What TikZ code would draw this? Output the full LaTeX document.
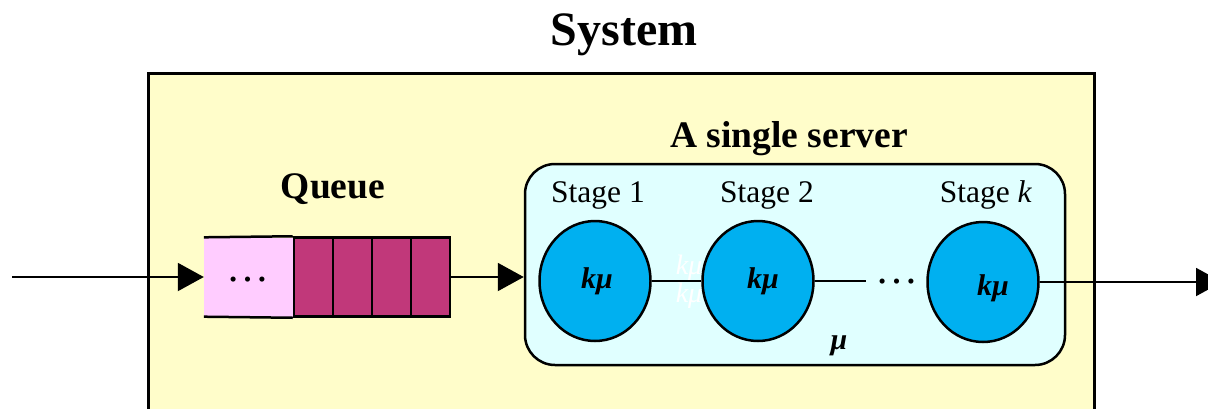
\documentclass[tikz,border=0pt]{standalone}
\usepackage{fontspec}
\setmainfont{Liberation Serif}
\usetikzlibrary{arrows.meta,shapes.geometric}
\definecolor{sysyellow}{HTML}{FFFDCA}
\definecolor{serverfill}{HTML}{E0FFFF}
\definecolor{stageblue}{HTML}{00B0F0}
\definecolor{waitpink}{HTML}{FFCCFF}
\definecolor{cellmag}{HTML}{C1387A}
\begin{document}
\begin{tikzpicture}[x=1pt,y=-1pt,
  flow/.style={line width=2pt, -{Triangle[length=26pt,width=28pt]}},
  link/.style={line width=2pt},
  cell/.style={draw, line width=2.5pt, fill=cellmag, minimum width=39pt,
    minimum height=79pt, inner sep=0pt},
  stagecirc/.style={ellipse, draw, line width=2.5pt, fill=stageblue,
    minimum width=111pt, minimum height=120pt, inner sep=0pt},
  heading/.style={font=\bfseries\fontsize{37.5}{40}\selectfont, anchor=base, inner sep=0pt},
  stagelabel/.style={font=\fontsize{31.5}{34}\selectfont, anchor=base, inner sep=0pt},
  rate/.style={font=\bfseries\itshape\fontsize{30}{34}\selectfont, anchor=base, inner sep=0pt},
  ghost/.style={font=\itshape\fontsize{28}{32}\selectfont, text=white, anchor=base, inner sep=0pt},
  dots/.style={font=\fontsize{43}{46}\selectfont, anchor=base, inner sep=0pt}
]
\useasboundingbox (0,0) rectangle (1208,408);
\clip (0,0) rectangle (1208,408);

% outer system box (runs past the lower edge)
\node (system) [draw, line width=3pt, fill=sysyellow, minimum width=946pt,
  minimum height=367pt, inner sep=0pt] at (621,256.5) {};
\node (title) [font=\bfseries\fontsize{48}{52}\selectfont, anchor=base, inner sep=0pt]
  at (624,45) {System};

% queue
\node (qlabel) [heading] at (333,198) {Queue};
\node (pinkq) [fill=waitpink, minimum width=90pt, minimum height=79pt, inner sep=0pt]
  at (249,277) {};
\node (qdots) [dots] at (248,281) {…};
\node (c1) [cell] at (313.5,277) {};
\node (c2) [cell] at (352.5,277) {};
\node (c3) [cell] at (391.5,277) {};
\node (c4) [cell] at (430.5,277) {};
\draw[line width=2.5pt] (pinkq.north west) -- (c1.north west);
\draw[line width=2.5pt] (pinkq.south west) -- (c1.south west);

% server
\node (slabel) [heading] at (789,147) {A single server};
\node (server) [draw, line width=2.5pt, rounded corners=30pt, fill=serverfill,
  minimum width=540pt, minimum height=201pt, inner sep=0pt] at (795,264.5) {};

\node (st1) [stagelabel] at (598,202) {Stage 1};
\node (st2) [stagelabel] at (767,202) {Stage 2};
\node (stk) [stagelabel] at (986,202) {Stage \textit{k}};

\node (g1) [ghost] at (689,274) {kμ};
\node (g2) [ghost] at (689,302) {kμ};

\node (s1) [stagecirc] at (595,281) {};
\node (s2) [stagecirc] at (758,281) {};
\node (s3) [stagecirc] at (983,282) {};

\node (r1) [rate] at (597,288) {kμ};
\node (r2) [rate] at (763,288) {kμ};
\node (r3) [rate] at (993,295) {kμ};
\node (mu) [rate] at (839,349) {μ};

\node (sdots) [dots] at (897,283) {…};

% connectors
\coordinate (in) at (12,277);
\coordinate (gap) at (866,281);
\coordinate (out) at (1222,282);
\draw[flow] (in) -- (pinkq.west);
\draw[flow] (c4.east) -- (c4.east -| server.west);
\draw[link] (s1) -- (s2);
\draw[link] (s2.east) -- (gap);
\draw[flow] (s3.east) -- (out);
\end{tikzpicture}
\end{document}
